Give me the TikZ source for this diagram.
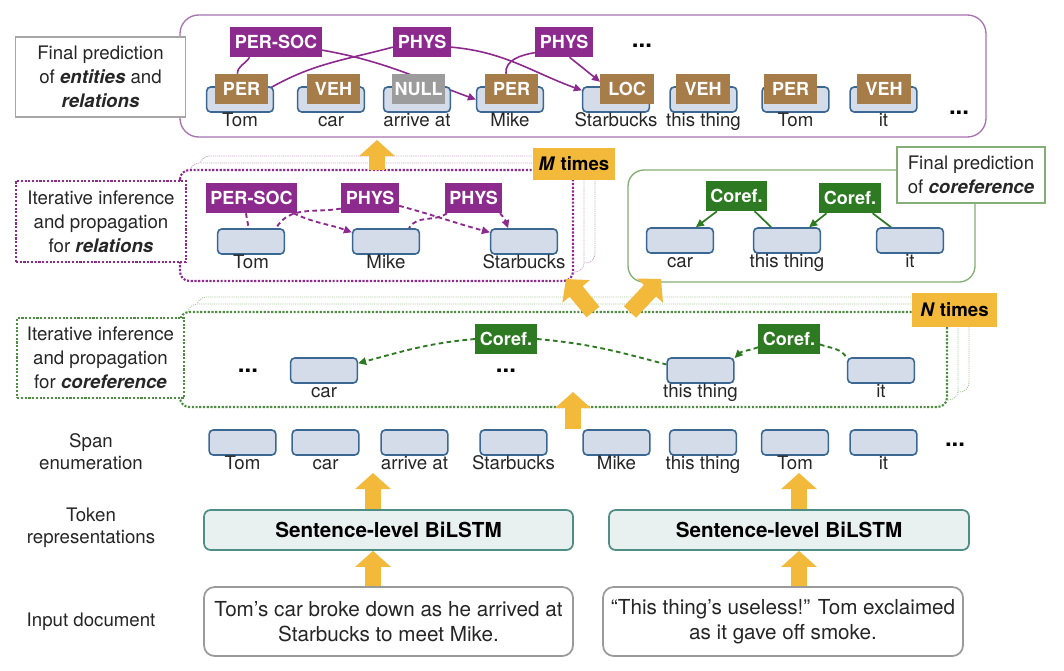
\documentclass[tikz,border=0pt]{standalone}
\usepackage{fontspec}
\setmainfont{TeX Gyre Heros}
\usetikzlibrary{arrows.meta}

\definecolor{relpurple}{HTML}{8D2A8E}
\definecolor{relpale}{HTML}{C79BCB}
\definecolor{framepurple}{HTML}{A873B0}
\definecolor{entbrown}{HTML}{A67C48}
\definecolor{nullgray}{HTML}{9C9C9C}
\definecolor{corgreen}{HTML}{2E7A22}
\definecolor{corpale}{HTML}{A3C497}
\definecolor{framegreen}{HTML}{84AE76}
\definecolor{spanfill}{HTML}{D3DCE8}
\definecolor{spanblue}{HTML}{3B6892}
\definecolor{arrowgold}{HTML}{F2B93B}
\definecolor{lstmfill}{HTML}{E9F1F0}
\definecolor{lstmteal}{HTML}{4F8E86}
\definecolor{docgray}{HTML}{9A9A9A}
\definecolor{inkgray}{HTML}{262626}

\pgfdeclarelayer{frames}
\pgfdeclarelayer{links}
\pgfsetlayers{frames,links,main}

\begin{document}
\begin{tikzpicture}[x=0.75pt, y=-0.75pt,
    every node/.style={inner sep=0pt, text=inkgray},
    spanbox/.style={draw=spanblue, fill=spanfill, line width=1.2pt, rounded corners=3pt,
                    minimum width=50pt, minimum height=18.75pt, label distance=3.5pt},
    wordlab/.style={font=\fontsize{14}{16}\selectfont, text height=10pt, text depth=3pt},
    tagbox/.style={text=white, font=\bfseries\fontsize{13.5}{15}\selectfont, minimum height=22.5pt},
    enttag/.style={tagbox, fill=entbrown, minimum width=40pt},
    reltag/.style={tagbox, fill=relpurple, inner xsep=3.5pt},
    cortag/.style={tagbox, fill=corgreen, inner xsep=3.5pt},
    lbox/.style={fill=white, align=center, font=\fontsize{14}{18}\selectfont},
    sidelab/.style={align=center, font=\fontsize{14}{16.5}\selectfont},
    ellips/.style={font=\bfseries\fontsize{18}{18}\selectfont, text=black},
    timesbox/.style={fill=arrowgold, text=black, font=\bfseries\fontsize{14}{16}\selectfont},
    lstm/.style={draw=lstmteal, fill=lstmfill, line width=1.3pt, rounded corners=5pt,
                 minimum height=30pt, text=black, font=\bfseries\fontsize{15.5}{18}\selectfont},
    docbox/.style={draw=docgray, line width=1.3pt, rounded corners=8pt, minimum height=51.75pt,
                   align=center, font=\fontsize{15.5}{19}\selectfont},
    rlink/.style={draw=relpurple, line width=1.2pt},
    drlink/.style={draw=relpurple, line width=1.4pt, dash pattern=on 3.5pt off 2.5pt},
    clink/.style={draw=corgreen, line width=1.3pt},
    dclink/.style={draw=corgreen, line width=1.4pt, dash pattern=on 3.5pt off 2.5pt},
    arrowed/.style={-{Triangle[length=6pt,width=5.5pt]}},
    bigup/.style={draw=arrowgold, line width=12.5pt, -{Triangle[length=12pt,width=26pt]}},
    stackback/.style={fill=white, line width=0.6pt, rounded corners=7pt, dash pattern=on 0.8pt off 0.8pt},
    stackfront/.style={fill=white, line width=1.6pt, rounded corners=7pt, dash pattern=on 1.6pt off 1.2pt},
  ]

\useasboundingbox (0,0) rectangle (1064,671);

% Frames and stacked layers
\begin{pgfonlayer}{frames}
\fill[white] (0,0) rectangle (1064,671);
\draw[draw=framepurple, line width=1pt, rounded corners=14pt] (180,15) rectangle (986,137);
\draw[stackback, draw=relpale] (200,156) rectangle (595,263);
\draw[stackback, draw=relpale] (190,163) rectangle (584,272);
\draw[stackfront, draw=relpurple] (180,170) rectangle (573,281);
\draw[draw=framegreen, line width=1pt, rounded corners=12pt] (628,170) rectangle (975,282);
\draw[stackback, draw=corpale] (197,297) rectangle (969,392);
\draw[stackback, draw=corpale] (188,304) rectangle (958,400);
\draw[stackfront, draw=corgreen!85] (180,312) rectangle (947,407);
\end{pgfonlayer}

% Labels on the left
\node[lbox, draw=gray!70, line width=0.8pt, minimum width=127pt, minimum height=60pt]
  (finalent) at (100.5,77) {Final prediction\\of \textbf{\textit{entities}} and\\\textbf{\textit{relations}}};
\node[lbox, draw=relpurple, line width=1.6pt, dash pattern=on 1.6pt off 1.2pt, minimum width=127.5pt, minimum height=61pt]
  (iterrel) at (101,221.5) {Iterative inference\\and propagation\\for \textbf{\textit{relations}}};
\node[lbox, draw=corgreen!85, line width=1.6pt, dash pattern=on 1.6pt off 1.2pt, minimum width=125pt, minimum height=60pt]
  (itercor) at (100.5,358) {Iterative inference\\and propagation\\for \textbf{\textit{coreference}}};
\node[lbox, draw=framegreen, line width=0.8pt, minimum width=111pt, minimum height=42pt]
  (finalcor) at (971,175) {Final prediction\\of \textbf{\textit{coreference}}};
\node[sidelab] (spanlab) at (91,452)   {Span\\enumeration};
\node[sidelab] (toklab)  at (91,527.5) {Token\\representations};
\node[sidelab] (doclab)  at (91,622)   {Input document};

% Final entities and relations
\node[spanbox, label={[wordlab]below:Tom}]        (tomE)    at (240,99.5)   {};
\node[spanbox, label={[wordlab]below:car}]        (carE)    at (331,99.5)   {};
\node[spanbox, label={[wordlab]below:arrive at}]  (arrE)    at (417,99.5)   {};
\node[spanbox, label={[wordlab]below:Mike}]       (mikeE)   at (510,99.5)   {};
\node[spanbox, label={[wordlab]below:Starbucks}]  (starE)   at (616,99.5)   {};
\node[spanbox, label={[wordlab]below:this thing}] (thingE)  at (703.5,99.5) {};
\node[spanbox, label={[wordlab]below:Tom}]        (tomtwoE) at (795.5,99.5) {};
\node[spanbox, label={[wordlab]below:it}]         (itE)     at (883.5,99.5) {};
\node[enttag] (perA) at (241.5,89) {PER};
\node[enttag] (vehA) at (333.5,89) {VEH};
\node[enttag, fill=nullgray] (nullA) at (418.5,89) {NULL};
\node[enttag] (perM) at (511.5,89) {PER};
\node[enttag] (locS) at (627,89)   {LOC};
\node[enttag] (vehT) at (703,89)   {VEH};
\node[enttag] (perT) at (790.5,89) {PER};
\node[enttag] (vehI) at (884,89)   {VEH};
\node[reltag] (persocA) at (276,42) {PER-SOC};
\node[reltag] (physA)   at (422,42) {PHYS};
\node[reltag] (physB)   at (564,42) {PHYS};
\node[ellips] (dotsA) at (642,46)  {...};
\node[ellips] (dotsB) at (959,113) {...};

% Relation layer
\node[reltag] (persocR) at (251.5,198) {PER-SOC};
\node[reltag] (physR)   at (370,198)   {PHYS};
\node[reltag] (physQ)   at (473.5,198) {PHYS};
\node[spanbox, label={[wordlab]below:Tom}]       (tomR)  at (251,241.5) {};
\node[spanbox, label={[wordlab]below:Mike}]      (mikeR) at (386,241.5) {};
\node[spanbox, label={[wordlab]below:Starbucks}] (starR) at (524,241.5) {};
\node[timesbox, minimum width=61.5pt, minimum height=24pt] (mtimes) at (574,164) {\textit{M} times};

% Final coreference
\node[cortag] (corF) at (736.5,196) {Coref.};
\node[cortag] (corG) at (850,198)   {Coref.};
\node[spanbox, label={[wordlab]below:car}]        (carF)   at (680,240.5) {};
\node[spanbox, label={[wordlab]below:this thing}] (thingF) at (787,240.5) {};
\node[spanbox, label={[wordlab]below:it}]         (itF)    at (910,240.5) {};

% Coreference layer
\node[ellips] (dotsC) at (248,371) {...};
\node[ellips] (dotsD) at (506,371) {...};
\node[cortag] (corK) at (506,339) {Coref.};
\node[cortag] (corL) at (789,339) {Coref.};
\node[spanbox, label={[wordlab]below:car}]        (carK)   at (324,370.5)   {};
\node[spanbox, label={[wordlab]below:this thing}] (thingK) at (700.5,370.5) {};
\node[spanbox, label={[wordlab]below:it}]         (itK)    at (881,370.5)   {};
\node[timesbox, minimum width=64pt, minimum height=25.5pt] (ntimes) at (954.5,310) {\textit{N} times};

% Span enumeration
\node[spanbox, label={[wordlab]below:Tom}]        (tomS)    at (242.5,442.5) {};
\node[spanbox, label={[wordlab]below:car}]        (carS)    at (325.5,442.5) {};
\node[spanbox, label={[wordlab]below:arrive at}]  (arrS)    at (414.5,442.5) {};
\node[spanbox, label={[wordlab]below:Starbucks}]  (starS)   at (513.5,442.5) {};
\node[spanbox, label={[wordlab]below:Mike}]       (mikeS)   at (616.5,442.5) {};
\node[spanbox, label={[wordlab]below:this thing}] (thingS)  at (703,442.5)   {};
\node[spanbox, label={[wordlab]below:Tom}]        (tomtwoS) at (795,442.5)   {};
\node[spanbox, label={[wordlab]below:it}]         (itS)     at (883.5,442.5) {};
\node[ellips] (dotsE) at (955,445) {...};

% Encoders and input
\node[lstm, minimum width=276.75pt] (lstmA) at (388.5,530) {Sentence-level BiLSTM};
\node[lstm, minimum width=270pt]    (lstmB) at (789,530)   {Sentence-level BiLSTM};
\node[docbox, minimum width=276.75pt] (docA) at (388.5,621.5) {Tom’s car broke down as he arrived at\\Starbucks to meet Mike.};
\node[docbox, minimum width=270pt]    (docB) at (783,621.5)   {“This thing’s useless!” Tom exclaimed\\as it gave off smoke.};

% Edges
\begin{pgfonlayer}{links}
\draw[rlink] (perA.105) to[out=90,in=240] (persocA.210);
\draw[rlink, arrowed] (persocA.-10) to[out=-10,in=160] (mikeE.west);
\draw[rlink] (perA.east) to[out=30,in=195] (physA.190);
\draw[rlink, arrowed] (physA.-10) to[out=-5,in=160] (starE.165);
\draw[rlink] (perM.110) to[out=95,in=190] (physB.200);
\draw[rlink, arrowed] (physB.-70) -- (locS.165);

\draw[drlink] (persocR.250) -- (tomR.100);
\draw[drlink, arrowed] (persocR.-20) to[out=-25,in=160] (mikeR.165);
\draw[drlink] (physR.200) to[out=190,in=60] (tomR.28);
\draw[drlink, arrowed] (physR.-15) to[out=-15,in=165] (starR.165);
\draw[drlink] (physQ.210) to[out=215,in=60] (mikeR.30);
\draw[drlink, arrowed] (physQ.-30) to[out=-45,in=110] (starR.140);

\draw[clink, arrowed] (corF.218) -- (carF.40);
\draw[clink] (corF.320) -- (thingF.140);
\draw[clink, arrowed] (corG.213) -- (thingF.31);
\draw[clink] (corG.326) -- (itF.145);

\draw[dclink, arrowed] (corK.west) to[out=185,in=15] (carK.12);
\draw[dclink] (corK.east) to[out=-5,in=165] (thingK.170);
\draw[dclink, arrowed] (corL.195) to[out=200,in=45] (thingK.20);
\draw[dclink] (corL.-10) to[out=-20,in=120] (itK.160);
\end{pgfonlayer}

% Big arrows
\coordinate (xl) at (373,0);
\coordinate (xr) at (799,0);
\coordinate (spanin) at (373,473);
\coordinate (relout) at (377,170);
\coordinate (topin) at (377,140);
\coordinate (corout) at (573,429);
\coordinate (corin) at (573,392);
\coordinate (ltail) at (593,312);
\coordinate (lhead) at (566,279);
\coordinate (rtail) at (630,312);
\coordinate (rhead) at (661,279);
\draw[bigup] (docA.north -| xl) -- (lstmA.south -| xl);
\draw[bigup] (lstmA.north -| xl) -- (spanin);
\draw[bigup] (docB.north -| xr) -- (lstmB.south -| xr);
\draw[bigup] (lstmB.north -| xr) -- (xr |- spanin);
\draw[bigup] (corout) -- (corin);
\draw[bigup] (ltail) -- (lhead);
\draw[bigup] (rtail) -- (rhead);
\draw[bigup] (relout) -- (topin);

\end{tikzpicture}
\end{document}
